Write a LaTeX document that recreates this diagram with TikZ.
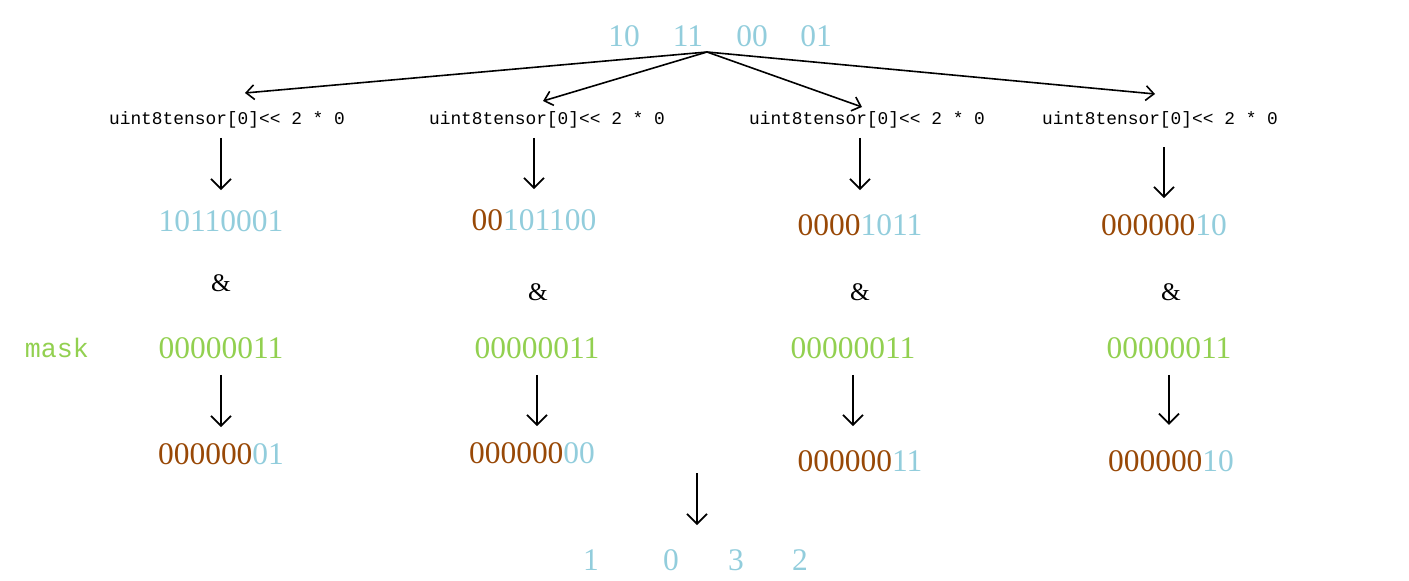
\documentclass[tikz,border=0pt]{standalone}
\usepackage{fontspec}
\setmainfont{Liberation Serif}
\setmonofont{Liberation Mono}
\usetikzlibrary{arrows.meta, positioning}
\definecolor{bitblue}{RGB}{146,205,220}
\definecolor{bitbrown}{RGB}{152,72,6}
\definecolor{bitgreen}{RGB}{146,208,80}
\tikzstyle{bits} = [inner sep=0pt, text=bitblue, font=\fontsize{23.6pt}{28pt}\selectfont]
\tikzstyle{maskbits} = [bits, text=bitgreen]
\tikzstyle{shiftop} = [inner sep=0pt, font=\fontsize{13.4pt}{16pt}\ttfamily]
\tikzstyle{andop} = [inner sep=0pt, font=\fontsize{19pt}{22pt}\selectfont]
\tikzstyle{fan} = [-{Straight Barb[length=6pt,width=11pt]}, line width=1.2pt]
\tikzstyle{down} = [-{Straight Barb[length=7.5pt,width=15pt]}, line width=1.3pt]
\newcommand{\hi}[1]{{\color{bitbrown}#1}}

\begin{document}
\begin{tikzpicture}[x=0.75pt, y=-0.75pt]
	\useasboundingbox (0,0) rectangle (1409,581);
	% packed bytes
	\foreach \v/\x [count=\i] in {10/624, 11/688, 00/752, 01/816}
		\node[bits] (s\i) at (\x,36) {\v};
	\coordinate (apex) at (707,52);
	\coordinate (t1) at (245,93);
	\coordinate (t2) at (543,101);
	\coordinate (t3) at (862,107);
	\coordinate (t4) at (1155,94);
	\foreach \t in {t1,t2,t3,t4}
		\draw[fan] (apex) -- (\t);
	% shifts
	\node[shiftop] (c1) at (227,120) {uint8tensor[0]<< 2 * 0};
	\node[shiftop] (c2) at (547,120) {uint8tensor[0]<< 2 * 0};
	\node[shiftop] (c3) at (867,120) {uint8tensor[0]<< 2 * 0};
	\node[shiftop] (c4) at (1160,120) {uint8tensor[0]<< 2 * 0};
	\node[bits] (b1) at (221,221) {10110001};
	\node[bits] (b2) at (534,220) {\hi{00}101100};
	\node[bits] (b3) at (860,225) {\hi{0000}1011};
	\node[bits] (b4) at (1164,225) {\hi{000000}10};
	\draw[down, shorten <=7pt, shorten >=15pt] (c1.south -| b1.north) -- (b1.north);
	\draw[down, shorten <=7pt, shorten >=15pt] (c2.south -| b2.north) -- (b2.north);
	\draw[down, shorten <=7pt, shorten >=18pt] (c3.south -| b3.north) -- (b3.north);
	\draw[down, shorten <=14pt, shorten >=12pt] (c4.south -| b4.north) -- (b4.north);
	% and mask
	\node[andop] (a1) at (221,283) {\&};
	\node[andop] (a2) at (538,292) {\&};
	\node[andop] (a3) at (860,292) {\&};
	\node[andop] (a4) at (1171,292) {\&};
	\node[inner sep=0pt, text=bitgreen, font=\fontsize{20pt}{24pt}\ttfamily] (mask) at (57,348) {mask};
	\node[maskbits] (m1) at (221,348) {00000011};
	\node[maskbits] (m2) at (537,348) {00000011};
	\node[maskbits] (m3) at (853,348) {00000011};
	\node[maskbits] (m4) at (1169,348) {00000011};
	\node[bits] (r1) at (221,454) {\hi{000000}01};
	\node[bits] (r2) at (532,453) {\hi{000000}00};
	\node[bits] (r3) at (860,461) {\hi{000000}11};
	\node[bits] (r4) at (1171,461) {\hi{000000}10};
	\foreach \i/\e in {1/12pt, 2/12pt, 3/18pt, 4/19pt}
		\draw[down, shorten <=12pt, shorten >=\e] (m\i.south) -- (m\i.south |- r\i.north);
	% result
	\foreach \v/\x [count=\i] in {1/591, 0/671, 3/736, 2/800}
		\node[bits] (o\i) at (\x,560) {\v};
	\coordinate (join) at (697,473);
	\draw[down, shorten >=18pt] (join) -- (join |- o2.north);
\end{tikzpicture}
\end{document}
